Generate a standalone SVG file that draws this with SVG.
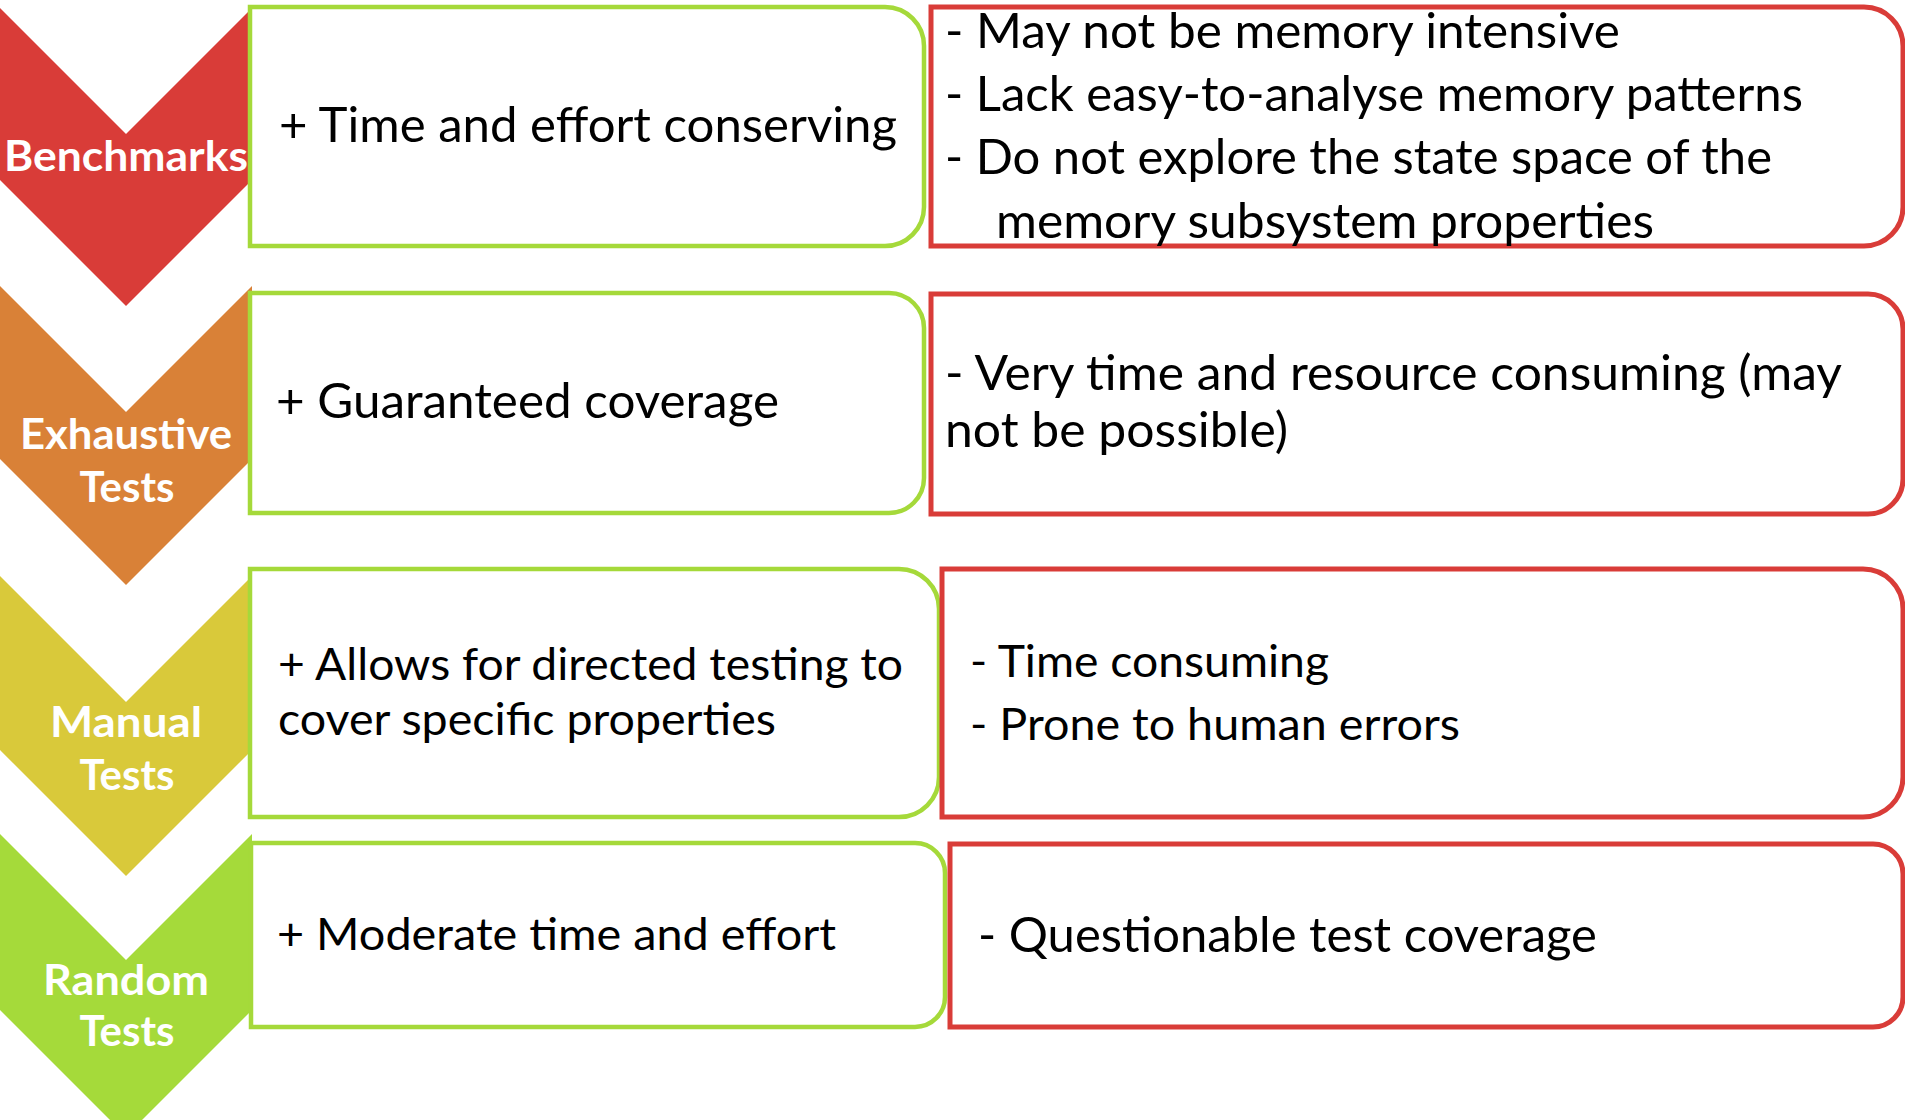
<svg xmlns="http://www.w3.org/2000/svg" width="1905" height="1120" viewBox="0 0 1905 1120">
  <style>
    .label { font-family: Lato, "Liberation Sans", sans-serif; font-weight: bold; font-size: 42px; fill: #ffffff; text-anchor: middle; }
    .body { font-family: Lato, "Liberation Sans", sans-serif; font-size: 47.5px; fill: #000000; }
    .small { font-size: 45px; }
    .pro { fill: #ffffff; stroke: #A5D93A; stroke-width: 4.5; }
    .con { fill: #ffffff; stroke: #D93C38; stroke-width: 5; }
  </style>
  <rect width="1905" height="1120" fill="#ffffff"/>

  <!-- Benchmarks row -->
  <g id="benchmarks">
    <path d="M0,8 L126,134 L252,8 V180 L126,306 L0,180 Z" fill="#D93C38"/>
    <text class="label" x="126" y="171" textLength="244" lengthAdjust="spacingAndGlyphs">Benchmarks</text>
  </g>
  <g id="benchmarks-pro">
    <path class="pro" d="M250,7 H885 A39,39 0 0 1 924,46 V207 A39,39 0 0 1 885,246 H250 Z"/>
    <text class="body" x="279" y="142" textLength="618" lengthAdjust="spacingAndGlyphs">+ Time and effort conserving</text>
  </g>
  <g id="benchmarks-con">
    <path class="con" d="M931,7 H1864 A39,39 0 0 1 1903,46 V207 A39,39 0 0 1 1864,246 H931 Z"/>
    <text class="body" x="945" y="48" textLength="675" lengthAdjust="spacingAndGlyphs">- May not be memory intensive</text>
    <text class="body" x="945" y="111" textLength="858" lengthAdjust="spacingAndGlyphs">- Lack easy-to-analyse memory patterns</text>
    <text class="body" x="945" y="174" textLength="827" lengthAdjust="spacingAndGlyphs">- Do not explore the state space of the</text>
    <text class="body" x="996" y="238" textLength="658" lengthAdjust="spacingAndGlyphs">memory subsystem properties</text>
  </g>

  <!-- Exhaustive tests row -->
  <g id="exhaustive">
    <path d="M0,286 L126,412 L252,286 V459 L126,585 L0,459 Z" fill="#D98137"/>
    <text class="label" x="126" y="449" textLength="212" lengthAdjust="spacingAndGlyphs">Exhaustive</text>
    <text class="label" x="127" y="502" textLength="95" lengthAdjust="spacingAndGlyphs">Tests</text>
  </g>
  <g id="exhaustive-pro">
    <path class="pro" d="M250,293 H889 A35,35 0 0 1 924,328 V478 A35,35 0 0 1 889,513 H250 Z"/>
    <text class="body" x="276" y="418" textLength="503" lengthAdjust="spacingAndGlyphs">+ Guaranteed coverage</text>
  </g>
  <g id="exhaustive-con">
    <path class="con" d="M931,294 H1868 A35,35 0 0 1 1903,329 V479 A35,35 0 0 1 1868,514 H931 Z"/>
    <text class="body" x="945" y="390" textLength="897" lengthAdjust="spacingAndGlyphs">- Very time and resource consuming (may</text>
    <text class="body" x="945" y="447" textLength="343" lengthAdjust="spacingAndGlyphs">not be possible)</text>
  </g>

  <!-- Manual tests row -->
  <g id="manual">
    <path d="M0,576 L126,702 L252,576 V750 L126,876 L0,750 Z" fill="#D9C93A"/>
    <text class="label" x="126" y="737" textLength="152" lengthAdjust="spacingAndGlyphs">Manual</text>
    <text class="label" x="127" y="790" textLength="95" lengthAdjust="spacingAndGlyphs">Tests</text>
  </g>
  <g id="manual-pro">
    <path class="pro" d="M250,569 H899 A40,40 0 0 1 939,609 V777 A40,40 0 0 1 899,817 H250 Z"/>
    <text class="body small" x="278" y="680" textLength="625" lengthAdjust="spacingAndGlyphs">+ Allows for directed testing to</text>
    <text class="body small" x="278" y="735" textLength="498" lengthAdjust="spacingAndGlyphs">cover specific properties</text>
  </g>
  <g id="manual-con">
    <path class="con" d="M942,569 H1863 A40,40 0 0 1 1903,609 V777 A40,40 0 0 1 1863,817 H942 Z"/>
    <text class="body small" x="970" y="677" textLength="359" lengthAdjust="spacingAndGlyphs">- Time consuming</text>
    <text class="body small" x="970" y="740" textLength="490" lengthAdjust="spacingAndGlyphs">- Prone to human errors</text>
  </g>

  <!-- Random tests row -->
  <g id="random">
    <path d="M0,834 L126,960 L252,834 V1010 L126,1136 L0,1010 Z" fill="#A5DA3A"/>
    <text class="label" x="126" y="995" textLength="166" lengthAdjust="spacingAndGlyphs">Random</text>
    <text class="label" x="127" y="1046" textLength="95" lengthAdjust="spacingAndGlyphs">Tests</text>
  </g>
  <g id="random-pro">
    <path class="pro" d="M251,843 H915 A30,30 0 0 1 945,873 V997 A30,30 0 0 1 915,1027 H251 Z"/>
    <text class="body small" x="277" y="950" textLength="559" lengthAdjust="spacingAndGlyphs">+ Moderate time and effort</text>
  </g>
  <g id="random-con">
    <path class="con" d="M950,844 H1873 A30,30 0 0 1 1903,874 V997 A30,30 0 0 1 1873,1027 H950 Z"/>
    <text class="body" x="978" y="952" textLength="619" lengthAdjust="spacingAndGlyphs">- Questionable test coverage</text>
  </g>
</svg>
